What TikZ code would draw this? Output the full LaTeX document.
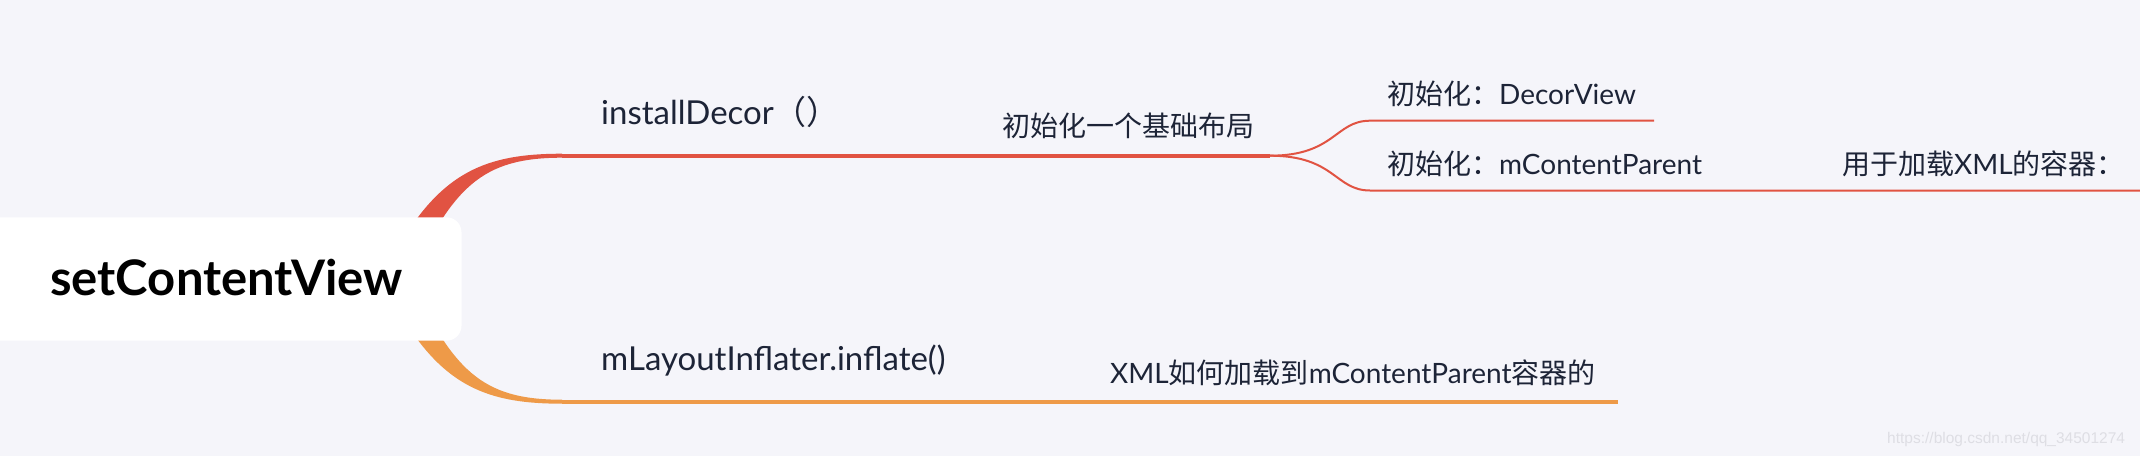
\documentclass[tikz,border=0pt]{standalone}
\usepackage{fontspec}
\setmainfont{Lato}
\newfontfamily\cjk{Noto Sans CJK SC}
\newfontfamily\wmfont{Liberation Sans}
\usetikzlibrary{calc}
\definecolor{bg}{RGB}{245,245,250}
\definecolor{redb}{RGB}{225,83,66}
\definecolor{orab}{RGB}{238,154,72}
\definecolor{ink}{RGB}{29,36,55}
\definecolor{wm}{RGB}{222,222,228}
\begin{document}
\begin{tikzpicture}[x=1pt,y=-1pt,
  lbl/.style={anchor=base west,inner sep=0pt,text=ink},
  big/.style={lbl,font=\fontsize{33}{39}\selectfont},
  small/.style={lbl,font=\fontsize{28}{34}\selectfont},
  mainline/.style={line width=4pt},
  subline/.style={line width=2pt,draw=redb}]
\useasboundingbox (0,0) rectangle (2140,456);
\fill[bg] (0,0) rectangle (2140,456);

% junction coordinates
\coordinate (rJ) at (562,155.7);
\coordinate (oJ) at (562,401.7);
\coordinate (rS) at (394,283);
\coordinate (oS) at (394,274.4);

% tapered connectors from the root
\fill[redb] ($(rS)+(-12,-5)$) .. controls (432,175) and (479,153.7) .. ($(rJ)+(0,-2)$)
  -- ($(rJ)+(0,2)$) .. controls (482,157.7) and (452,186) .. ($(rS)+(12,5)$) -- cycle;
\fill[orab] ($(oS)+(-12,5)$) .. controls (432,382.4) and (479,403.7) .. ($(oJ)+(0,2)$)
  -- ($(oJ)+(0,-2)$) .. controls (482,399.7) and (452,371.4) .. ($(oS)+(12,-5)$) -- cycle;

% root
\node (rootbox) [fill=white, rounded corners=15pt, minimum width=481.5pt,
  minimum height=123.4pt, inner sep=0pt] at (220.75,279) {};
\node (root) [anchor=base west, inner sep=0pt, text=black,
  font=\bfseries\fontsize{49}{57}\selectfont] at (50,295) {setContentView};

% first branch
\coordinate (split) at (1270,155.7);
\draw[mainline,redb] (rJ) -- (split);
\node[big] (inst) at (601,124) {installDecor{\cjk （）}};
\node[small] (base) at (1002,136) {\cjk 初始化一个基础布局};

\coordinate (upL) at (1370,120.7);
\coordinate (upR) at (1654,120.7);
\coordinate (loL) at (1370,190.5);
\coordinate (loR) at (2145,190.5);
\draw[subline] (split) .. controls (1335,155.7) and (1335,120.7) .. (upL) -- (upR);
\draw[subline] (split) .. controls (1335,155.7) and (1335,190.5) .. (loL) -- (loR);
\node[small] (decor) at (1387,104.3) {{\cjk 初始化：}DecorView};
\node[small] (parent) at (1387,174.3) {{\cjk 初始化：}mContentParent};
\node[small] (cont) at (1842,174.3) {{\cjk 用于加载}XML{\cjk 的容器：}};

% second branch
\coordinate (oE) at (1618,401.7);
\draw[mainline,orab] (oJ) -- (oE);
\node[big] (infl) at (601,370) {mLayoutInflater.inflate()};
\node[small] (xml) at (1110,383.3) {XML{\cjk 如何加载到}mContentParent{\cjk 容器的}};

% watermark
\node (wmk) [anchor=base west, inner sep=0pt, text=wm,
  font=\wmfont\fontsize{15.5}{18}\selectfont] at (1887,443) {https://blog.csdn.net/qq\_34501274};
\end{tikzpicture}
\end{document}
